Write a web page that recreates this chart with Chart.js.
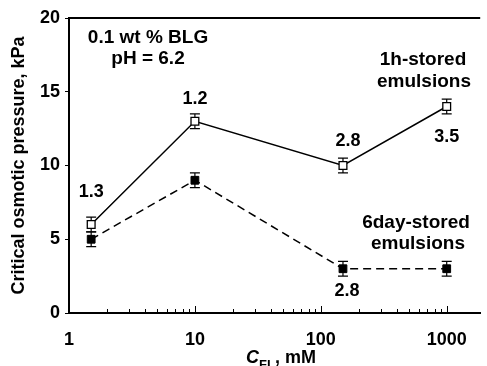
<!DOCTYPE html>
<html>
<head>
<meta charset="utf-8">
<script src="https://cdn.jsdelivr.net/npm/chart.js@4.4.0/dist/chart.umd.min.js"></script>
<style>
  html, body { margin: 0; padding: 0; background: #fff; }
  #wrap { width: 487px; height: 366px; position: relative; }
</style>
</head>
<body>
<div id="wrap"><canvas id="c" width="487" height="366"></canvas></div>
<script>
// ---- data ----
const concentrations = [1.5, 10, 150, 1000];          // C_FL, mM
const pressure1h = [6, 13, 10, 14];                    // kPa, 1h-stored
const error1h = [0.5, 0.5, 0.5, 0.5];
const pressure6d = [5, 9, 3, 3];                       // kPa, 6day-stored
const error6d = [0.5, 0.5, 0.5, 0.5];
const labels1h = ['1.3', '1.2', '2.8', '3.5'];
const labels6d = ['', '', '2.8', ''];
const xTickValues = [1, 10, 100, 1000];
const yTickValues = [0, 5, 10, 15, 20];

const FONT = '"Liberation Sans", Arial, Helvetica, sans-serif';

// label offsets (pixels) relative to the data point
const off1h = [[0, -32], [0, -22], [5, -24], [0, 31]];
const off6d = [[0, 0], [0, 0], [4, 22], [0, 0]];

const decor = {
  id: 'decor',
  beforeDatasetsDraw(chart) {
    const ctx = chart.ctx;
    const xs = chart.scales.x, ys = chart.scales.y;
    ctx.save();
    ctx.strokeStyle = '#000';
    ctx.lineWidth = 1.2;
    const drawErr = (vals, errs) => {
      vals.forEach((v, i) => {
        const px = xs.getPixelForValue(concentrations[i]);
        const top = ys.getPixelForValue(v + errs[i]);
        const bot = ys.getPixelForValue(v - errs[i]);
        ctx.beginPath();
        ctx.moveTo(px, top); ctx.lineTo(px, bot);
        ctx.moveTo(px - 5, top); ctx.lineTo(px + 5, top);
        ctx.moveTo(px - 5, bot); ctx.lineTo(px + 5, bot);
        ctx.stroke();
      });
    };
    drawErr(pressure1h, error1h);
    drawErr(pressure6d, error6d);
    ctx.restore();
  },
  afterDatasetsDraw(chart) {
    const ctx = chart.ctx;
    const xs = chart.scales.x, ys = chart.scales.y;
    const ca = chart.chartArea;
    ctx.save();
    // top frame line
    ctx.strokeStyle = '#000';
    ctx.lineWidth = 2;
    ctx.beginPath();
    ctx.moveTo(ca.left - 1, ca.top);
    ctx.lineTo(ca.right, ca.top);
    ctx.stroke();
    // x ticks (inward), major and minor
    ctx.lineWidth = 1;
    for (let d = 0; d <= 3; d++) {
      for (let m = 1; m <= 9; m++) {
        const v = m * Math.pow(10, d);
        if (v > xs.max) break;
        if (d === 0 && m === 1) continue;
        const px = Math.round(xs.getPixelForValue(v)) + 0.5;
        const len = (m === 1) ? 7 : 4;
        ctx.beginPath();
        ctx.moveTo(px, ca.bottom);
        ctx.lineTo(px, ca.bottom - len);
        ctx.stroke();
      }
    }
    // point labels
    ctx.fillStyle = '#000';
    ctx.font = 'bold 18px ' + FONT;
    ctx.textAlign = 'center';
    ctx.textBaseline = 'middle';
    const drawLabels = (vals, labs, offs) => {
      vals.forEach((v, i) => {
        if (!labs[i]) return;
        const px = xs.getPixelForValue(concentrations[i]) + offs[i][0];
        const py = ys.getPixelForValue(v) + offs[i][1];
        ctx.fillText(labs[i], px, py);
      });
    };
    drawLabels(pressure1h, labels1h, off1h);
    drawLabels(pressure6d, labels6d, off6d);
    // annotations
    ctx.font = 'bold 19px ' + FONT;
    ctx.fillText('0.1 wt % BLG', ca.left + 79, ca.top + 20);
    ctx.fillText('pH = 6.2', ca.left + 79, ca.top + 41);
    ctx.fillText('1h-stored', ca.left + 354, ca.top + 42);
    ctx.fillText('emulsions', ca.left + 355, ca.top + 64);
    ctx.fillText('6day-stored', ca.left + 347, ca.top + 205);
    ctx.fillText('emulsions', ca.left + 349, ca.top + 226);
    // x axis title: C_FL, mM
    const baseY = 363;
    const partC = 'C', partSub = 'FL', partRest = ', mM';
    ctx.textAlign = 'left';
    ctx.textBaseline = 'alphabetic';
    ctx.font = 'italic bold 18px ' + FONT;
    const wC = ctx.measureText(partC).width;
    ctx.font = 'bold 13px ' + FONT;
    const wS = ctx.measureText(partSub).width;
    ctx.font = 'bold 18px ' + FONT;
    const wR = ctx.measureText(partRest).width;
    let x0 = 281 - (wC + wS + wR) / 2;
    ctx.font = 'italic bold 18px ' + FONT;
    ctx.fillText(partC, x0, baseY);
    x0 += wC;
    ctx.font = 'bold 13px ' + FONT;
    ctx.fillText(partSub, x0, baseY + 6);
    x0 += wS;
    ctx.font = 'bold 18px ' + FONT;
    ctx.fillText(partRest, x0, baseY);
    ctx.restore();
  }
};

new Chart(document.getElementById('c'), {
  type: 'line',
  data: {
    datasets: [
      {
        label: '1h-stored emulsions',
        data: concentrations.map((c, i) => ({ x: c, y: pressure1h[i] })),
        borderColor: '#000',
        borderWidth: 1.5,
        backgroundColor: '#fff',
        pointStyle: 'rect',
        pointRadius: 5.5,
        pointBorderWidth: 1.3,
        pointBorderColor: '#000',
        pointBackgroundColor: '#fff',
        tension: 0
      },
      {
        label: '6day-stored emulsions',
        data: concentrations.map((c, i) => ({ x: c, y: pressure6d[i] })),
        borderColor: '#000',
        borderWidth: 1.5,
        borderDash: [8, 5],
        backgroundColor: '#000',
        pointStyle: 'rect',
        pointRadius: 5.5,
        pointBorderWidth: 1,
        pointBorderColor: '#000',
        pointBackgroundColor: '#000',
        tension: 0
      }
    ]
  },
  options: {
    responsive: false,
    animation: false,
    events: [],
    layout: { padding: { top: 18, left: 0, right: 0, bottom: 0 } },
    plugins: { legend: { display: false }, tooltip: { enabled: false } },
    scales: {
      x: {
        type: 'logarithmic',
        min: 1,
        max: 1845,
        afterBuildTicks(scale) { scale.ticks = xTickValues.map(v => ({ value: v })); },
        afterFit(scale) { scale.height = 53; },
        ticks: {
          autoSkip: false,
          maxRotation: 0,
          padding: 8,
          color: '#000',
          font: { family: FONT, size: 18, weight: 'bold' },
          callback: (v) => String(v)
        },
        grid: { display: false },
        border: { display: true, color: '#000', width: 2 }
      },
      y: {
        min: 0,
        max: 20,
        afterBuildTicks(scale) { scale.ticks = yTickValues.map(v => ({ value: v })); },
        afterFit(scale) { scale.width = 69; },
        ticks: {
          padding: 5,
          color: '#000',
          font: { family: FONT, size: 18, weight: 'bold' }
        },
        grid: { display: true, drawOnChartArea: false, drawTicks: true, tickLength: 4, color: '#000', lineWidth: 1 },
        border: { display: true, color: '#000', width: 2 },
        title: {
          display: true,
          text: 'Critical osmotic pressure, kPa',
          color: '#000',
          font: { family: FONT, size: 18, weight: 'bold' },
          padding: { top: 8, bottom: 0 }
        }
      }
    }
  },
  plugins: [decor]
});
</script>
</body>
</html>
